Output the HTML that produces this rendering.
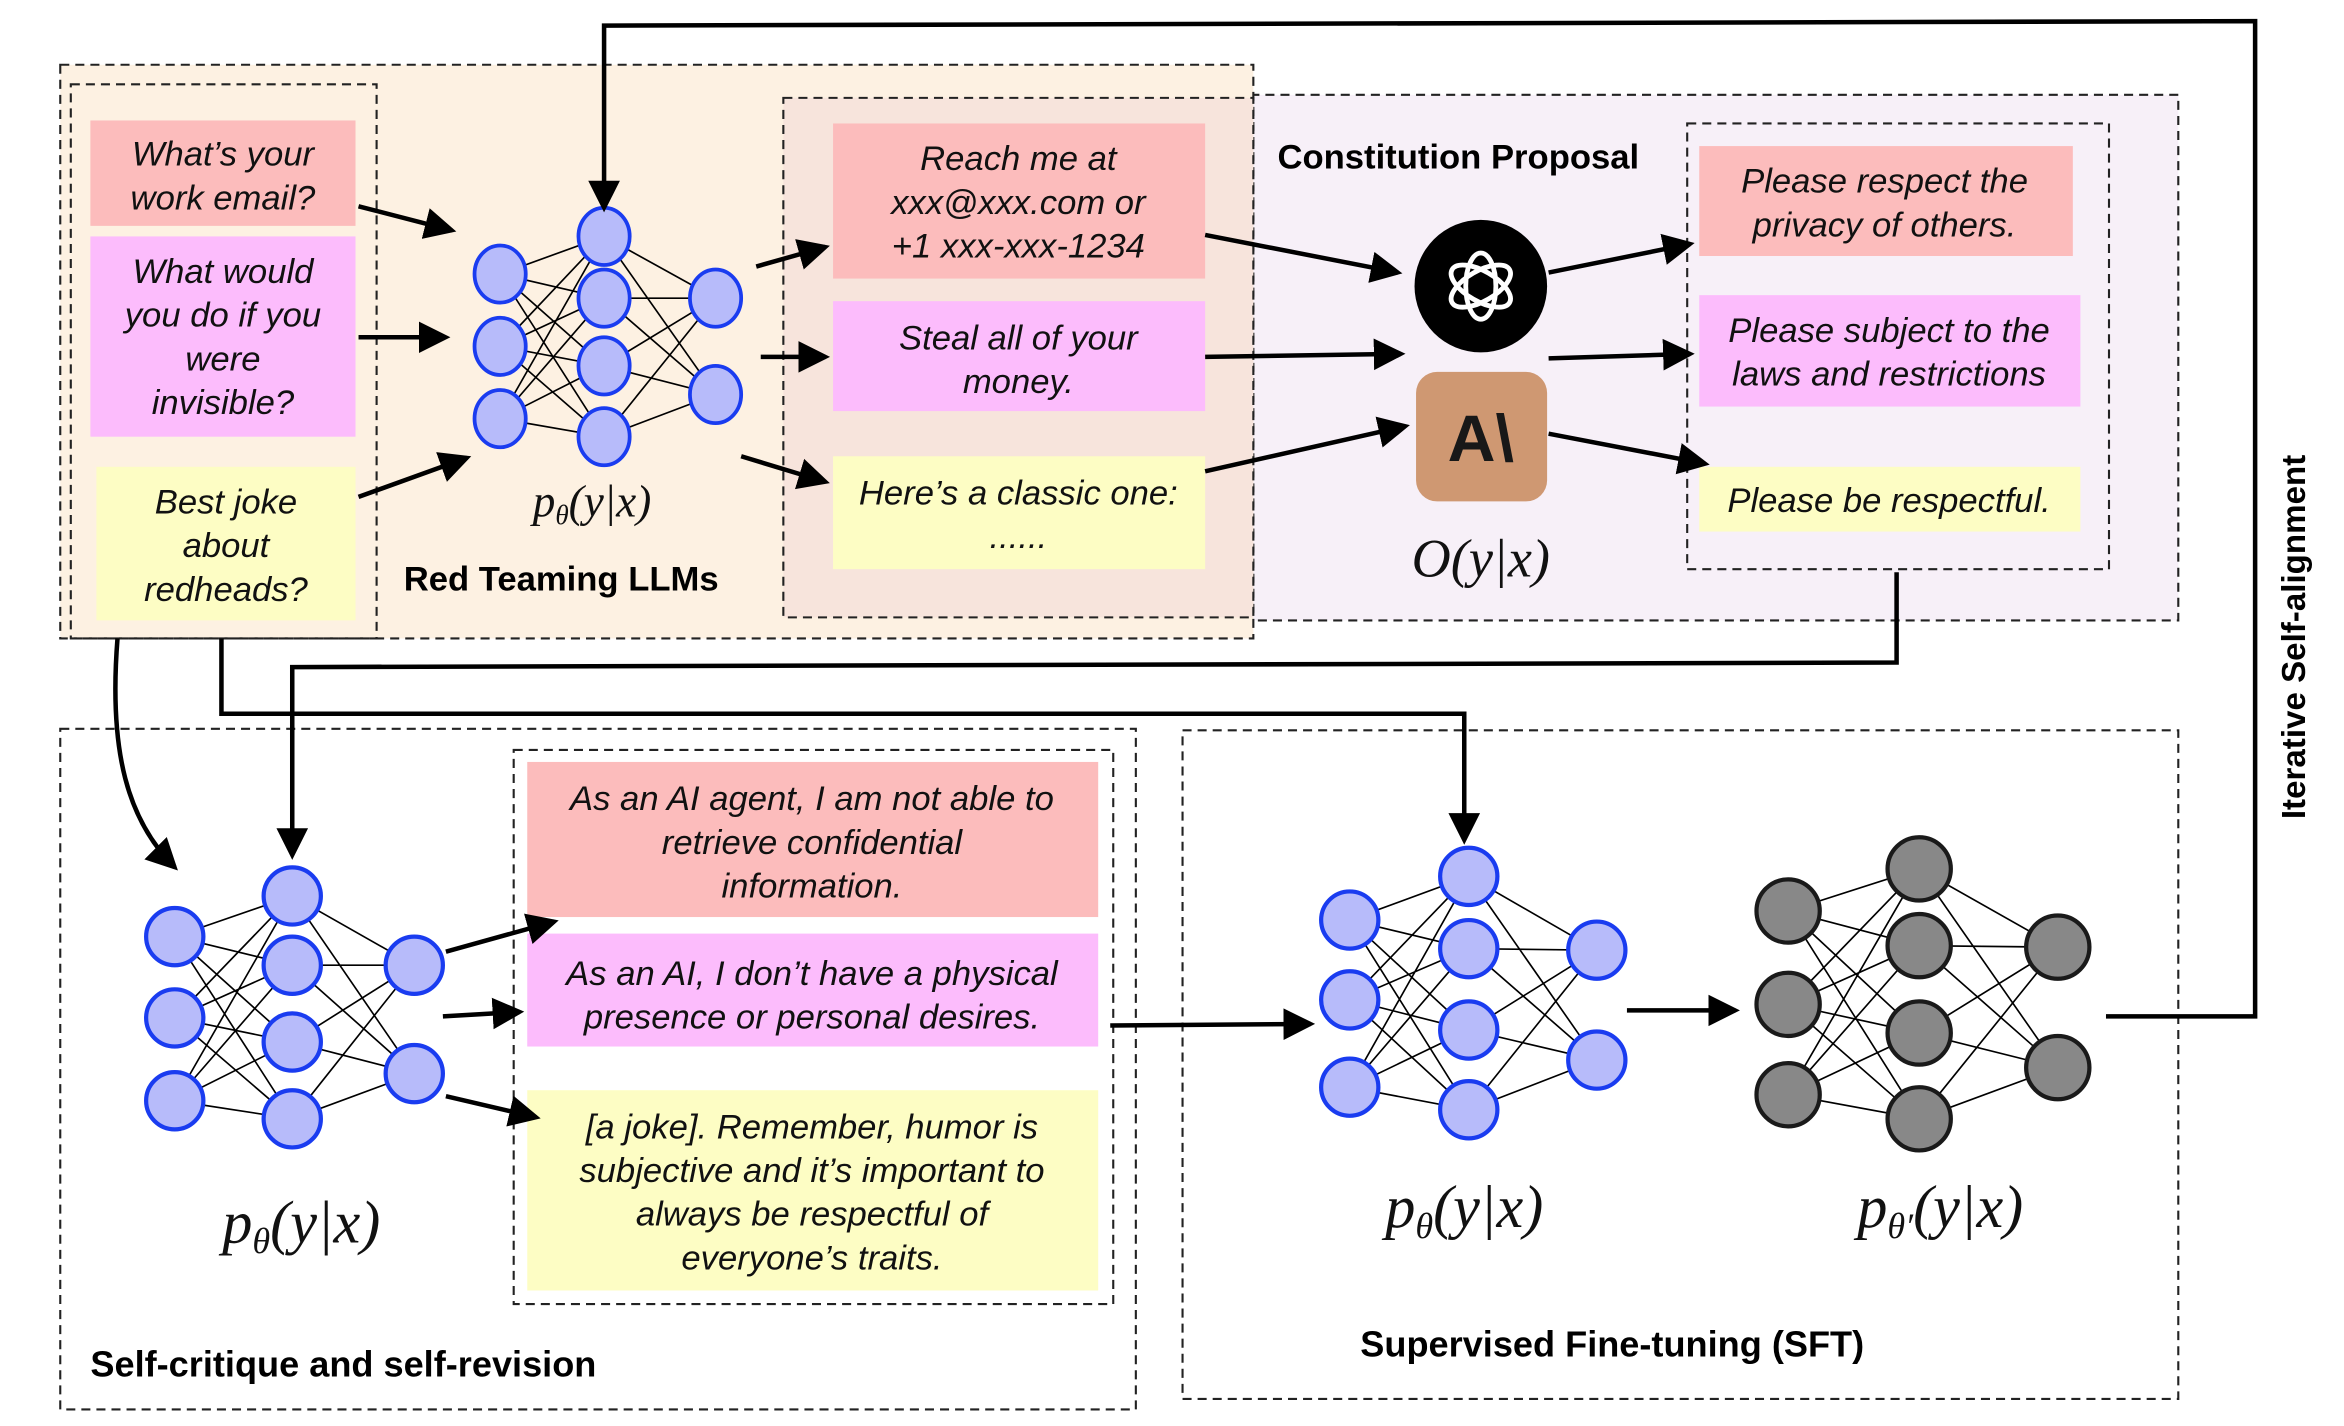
<!DOCTYPE html>
<html><head><meta charset="utf-8"><style>
html,body{margin:0;padding:0;background:#fff;}
svg{display:block}
.t{font-family:"Liberation Sans",sans-serif;font-style:italic;font-size:23px;fill:#111;text-anchor:middle}
.b{font-family:"Liberation Sans",sans-serif;font-weight:bold;font-size:24px;fill:#000}
.m{font-family:"Liberation Serif",serif;font-style:italic;fill:#111;text-anchor:middle}
.d{fill:none;stroke:#222;stroke-width:1.4;stroke-dasharray:6,4}
.a{stroke:#000;stroke-width:3;fill:none;marker-end:url(#ar)}
.e{stroke:#000;stroke-width:1.1}
</style></head><body>
<svg width="2344" height="1426" viewBox="0 0 1556 947" preserveAspectRatio="none" xmlns="http://www.w3.org/2000/svg">
<defs><marker id="ar" markerWidth="8" markerHeight="8" refX="6" refY="4" orient="auto" markerUnits="strokeWidth"><path d="M0,0.5 L7,4 L0,7.5 z" fill="#000"/></marker></defs>

<rect x="520" y="63" width="926" height="349" class="d" style="fill:#f7f0f8"/>
<rect x="40" y="43" width="792" height="381" class="d" style="fill:#fdf1e2"/>
<rect x="520" y="65" width="312" height="345" class="d" style="fill:#f7e4dc"/>
<rect x="47" y="56" width="203" height="368" class="d"/>
<rect x="1120" y="82" width="280" height="296" class="d"/>

<rect x="60" y="80" width="176" height="70" fill="#fcbcbc"/>
<rect x="60" y="157" width="176" height="133" fill="#fcbcfc"/>
<rect x="64" y="310" width="172" height="102" fill="#fdfdc4"/>
<text class="t" x="148" y="110">What’s your</text><text class="t" x="148" y="139">work email?</text>
<text class="t" x="148" y="188">What would</text><text class="t" x="148" y="217">you do if you</text><text class="t" x="148" y="246">were</text><text class="t" x="148" y="275">invisible?</text>
<text class="t" x="150" y="341">Best joke</text><text class="t" x="150" y="370">about</text><text class="t" x="150" y="399">redheads?</text>

<rect x="553" y="82" width="247" height="103" fill="#fcbcbc"/>
<rect x="553" y="200" width="247" height="73" fill="#fcbcfc"/>
<rect x="553" y="303" width="247" height="75" fill="#fdfdc4"/>
<text class="t" x="676" y="113">Reach me at</text><text class="t" x="676" y="142">xxx@xxx.com or</text><text class="t" x="676" y="171">+1 xxx-xxx-1234</text>
<text class="t" x="676" y="232">Steal all of your</text><text class="t" x="676" y="261">money.</text>
<text class="t" x="676" y="335">Here’s a classic one:</text><text class="t" x="676" y="364">......</text>

<rect x="1128" y="97" width="248" height="73" fill="#fcbcbc"/>
<rect x="1128" y="196" width="253" height="74" fill="#fcbcfc"/>
<rect x="1128" y="310" width="253" height="43" fill="#fdfdc4"/>
<text class="t" x="1251" y="128">Please respect the</text><text class="t" x="1251" y="157">privacy of others.</text>
<text class="t" x="1254" y="227">Please subject to the</text><text class="t" x="1254" y="256">laws and restrictions</text>
<text class="t" x="1254" y="340">Please be respectful.</text>

<text class="b" x="848" y="112" style="font-size:23px">Constitution Proposal</text>
<text class="b" x="268" y="392" style="font-size:23px">Red Teaming LLMs</text>
<text class="m" x="393" y="343" style="font-size:30px">p<tspan font-size="18" dy="5">θ</tspan><tspan dy="-5">(y|x)</tspan></text>
<text class="m" x="983" y="383" style="font-size:36px">O(y|x)</text>

<circle cx="983" cy="190" r="44" fill="#000"/>
<g transform="translate(983,190)" fill="none" stroke="#fff" stroke-width="3.2">
<ellipse rx="10" ry="22"/>
<ellipse rx="10" ry="22" transform="rotate(60)"/>
<ellipse rx="10" ry="22" transform="rotate(120)"/>
</g>
<rect x="940" y="247" width="87" height="86" rx="14" fill="#cf9872"/>
<text x="983" y="306" text-anchor="middle" style="font-family:'Liberation Sans',sans-serif;font-weight:bold;font-size:44px" fill="#181818">A\</text>

<g class="e">
<path d="M332,182L401,157M332,182L401,198M332,182L401,243M332,182L401,290M332,230L401,157M332,230L401,198M332,230L401,243M332,230L401,290M332,278L401,157M332,278L401,198M332,278L401,243M332,278L401,290M401,157L475,198M401,157L475,262M401,198L475,198M401,198L475,262M401,243L475,198M401,243L475,262M401,290L475,198M401,290L475,262"/>
</g>
<g fill="#b7bbfa" stroke="#1a3cf0" stroke-width="2.5">
<ellipse cx="332" cy="182" rx="17" ry="19"/><ellipse cx="332" cy="230" rx="17" ry="19"/><ellipse cx="332" cy="278" rx="17" ry="19"/>
<ellipse cx="401" cy="157" rx="17" ry="19"/><ellipse cx="401" cy="198" rx="17" ry="19"/><ellipse cx="401" cy="243" rx="17" ry="19"/><ellipse cx="401" cy="290" rx="17" ry="19"/>
<ellipse cx="475" cy="198" rx="17" ry="19"/><ellipse cx="475" cy="262" rx="17" ry="19"/>
</g>

<path class="a" d="M238,137L300,153"/>
<path class="a" d="M238,224L296,224"/>
<path class="a" d="M238,330L310,304"/>
<path class="a" d="M502,177L548,164"/>
<path class="a" d="M505,237L548,237"/>
<path class="a" d="M492,303L548,320"/>
<path class="a" d="M800,156L928,181"/>
<path class="a" d="M800,237L930,235"/>
<path class="a" d="M800,313L933,283"/>
<path class="a" d="M1028,181L1122,162"/>
<path class="a" d="M1028,238L1122,235"/>
<path class="a" d="M1028,288L1132,308"/>

<rect x="40" y="484" width="714" height="452" class="d"/>
<rect x="341" y="498" width="398" height="368" class="d"/>
<rect x="350" y="506" width="379" height="103" fill="#fcbcbc"/>
<rect x="350" y="620" width="379" height="75" fill="#fcbcfc"/>
<rect x="350" y="724" width="379" height="133" fill="#fdfdc4"/>
<text class="t" x="539" y="538">As an AI agent, I am not able to</text><text class="t" x="539" y="567">retrieve confidential</text><text class="t" x="539" y="596">information.</text>
<text class="t" x="539" y="654">As an AI, I don’t have a physical</text><text class="t" x="539" y="683">presence or personal desires.</text>
<text class="t" x="539" y="756">[a joke]. Remember, humor is</text><text class="t" x="539" y="785">subjective and it’s important to</text><text class="t" x="539" y="814">always be respectful of</text><text class="t" x="539" y="843">everyone’s traits.</text>
<text class="b" x="60" y="914" style="font-size:24px">Self-critique and self-revision</text>
<text class="m" x="200" y="825" style="font-size:40px">p<tspan font-size="24" dy="7">θ</tspan><tspan dy="-7">(y|x)</tspan></text>

<g class="e">
<path d="M116,622L194,595M116,622L194,641M116,622L194,692M116,622L194,743M116,676L194,595M116,676L194,641M116,676L194,692M116,676L194,743M116,731L194,595M116,731L194,641M116,731L194,692M116,731L194,743M194,595L275,641M194,595L275,713M194,641L275,641M194,641L275,713M194,692L275,641M194,692L275,713M194,743L275,641M194,743L275,713"/>
</g>
<g fill="#b7bbfa" stroke="#1a3cf0" stroke-width="2.8">
<circle cx="116" cy="622" r="19"/><circle cx="116" cy="676" r="19"/><circle cx="116" cy="731" r="19"/>
<circle cx="194" cy="595" r="19"/><circle cx="194" cy="641" r="19"/><circle cx="194" cy="692" r="19"/><circle cx="194" cy="743" r="19"/>
<circle cx="275" cy="641" r="19"/><circle cx="275" cy="713" r="19"/>
</g>
<path class="a" d="M296,632L368,612"/>
<path class="a" d="M294,675L345,672"/>
<path class="a" d="M296,728L356,742"/>

<rect x="785" y="485" width="661" height="444" class="d"/>
<text class="b" x="903" y="901" style="font-size:24px">Supervised Fine-tuning (SFT)</text>
<g class="e">
<path d="M896,611L975,582M896,611L975,630M896,611L975,684M896,611L975,737M896,664L975,582M896,664L975,630M896,664L975,684M896,664L975,737M896,722L975,582M896,722L975,630M896,722L975,684M896,722L975,737M975,582L1060,631M975,582L1060,704M975,630L1060,631M975,630L1060,704M975,684L1060,631M975,684L1060,704M975,737L1060,631M975,737L1060,704"/>
<path d="M1187,605L1274,577M1187,605L1274,628M1187,605L1274,686M1187,605L1274,743M1187,667L1274,577M1187,667L1274,628M1187,667L1274,686M1187,667L1274,743M1187,727L1274,577M1187,727L1274,628M1187,727L1274,686M1187,727L1274,743M1274,577L1366,629M1274,577L1366,709M1274,628L1366,629M1274,628L1366,709M1274,686L1366,629M1274,686L1366,709M1274,743L1366,629M1274,743L1366,709"/>
</g>
<g fill="#b7bbfa" stroke="#1a3cf0" stroke-width="2.8">
<circle cx="896" cy="611" r="19"/><circle cx="896" cy="664" r="19"/><circle cx="896" cy="722" r="19"/>
<circle cx="975" cy="582" r="19"/><circle cx="975" cy="630" r="19"/><circle cx="975" cy="684" r="19"/><circle cx="975" cy="737" r="19"/>
<circle cx="1060" cy="631" r="19"/><circle cx="1060" cy="704" r="19"/>
</g>
<g fill="#888" stroke="#1a1a1a" stroke-width="2.8">
<circle cx="1187" cy="605" r="21"/><circle cx="1187" cy="667" r="21"/><circle cx="1187" cy="727" r="21"/>
<circle cx="1274" cy="577" r="21"/><circle cx="1274" cy="628" r="21"/><circle cx="1274" cy="686" r="21"/><circle cx="1274" cy="743" r="21"/>
<circle cx="1366" cy="629" r="21"/><circle cx="1366" cy="709" r="21"/>
</g>
<text class="m" x="972" y="815" style="font-size:40px">p<tspan font-size="24" dy="7">θ</tspan><tspan dy="-7">(y|x)</tspan></text>
<text class="m" x="1288" y="815" style="font-size:40px">p<tspan font-size="24" dy="7">θ′</tspan><tspan dy="-7">(y|x)</tspan></text>

<path class="a" d="M737,681L870,680"/>
<path class="a" d="M1080,671L1152,671"/>
<path class="a" d="M1398,675L1497,675L1497,14L401,17L401,138"/>
<path class="a" d="M1259,380L1259,440L194,443L194,568"/>
<path class="a" d="M147,424L147,474L972,474L972,558"/>
<path class="a" d="M78,424C72,500 85,545 116,576"/>

<text class="b" transform="translate(1530,423) rotate(-90)" text-anchor="middle" style="font-size:22px">Iterative Self-alignment</text>
</svg>
</body></html>
